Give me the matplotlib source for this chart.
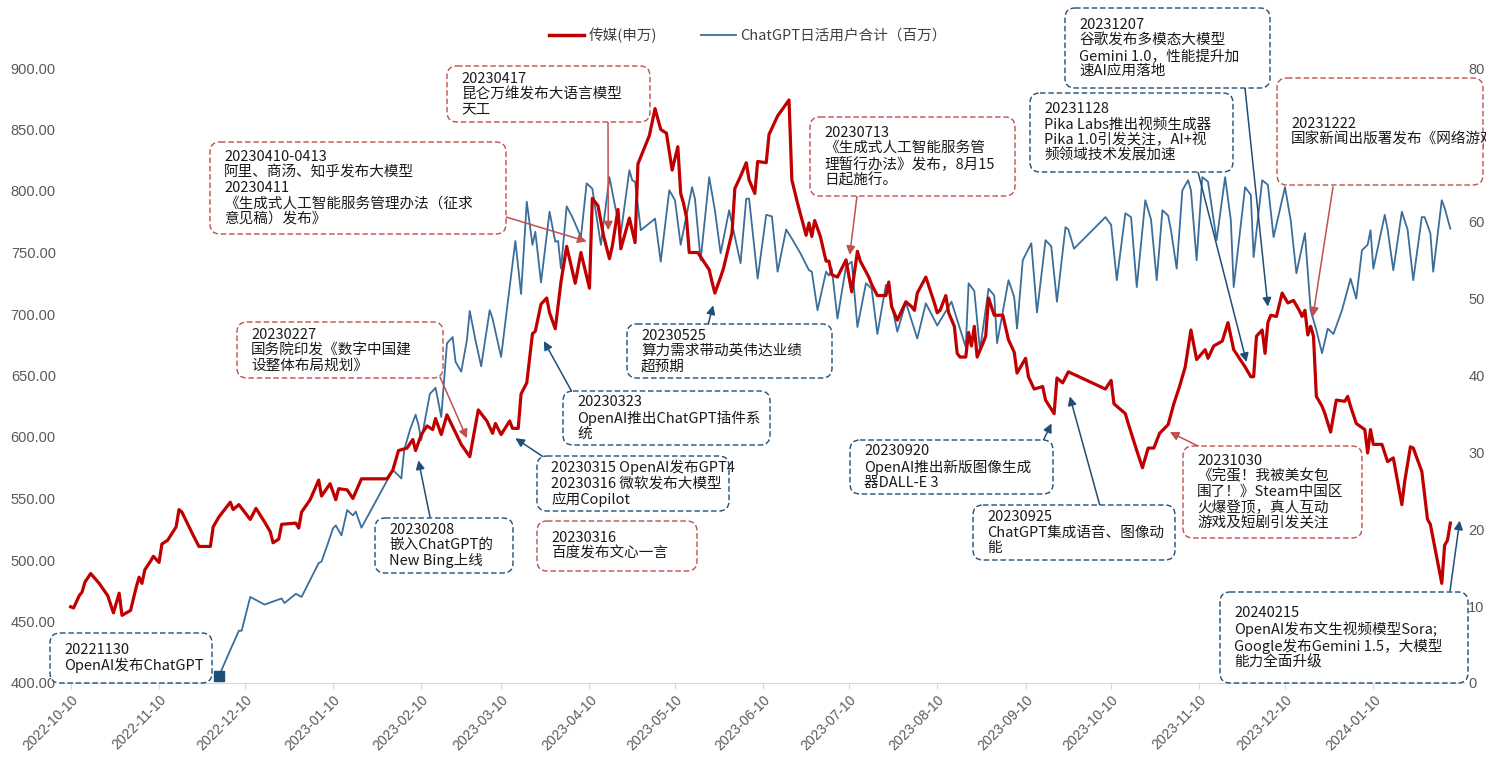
import numpy as np
import pandas as pd
import matplotlib
matplotlib.use('Agg')
import matplotlib.pyplot as plt
import matplotlib.dates as mdates
from matplotlib.patches import FancyBboxPatch
from matplotlib.transforms import Affine2D
from matplotlib.lines import Line2D

plt.rcParams['font.family'] = ['Noto Sans CJK SC', 'DejaVu Sans']

# ---------------------------------------------------------------
# data (x = days since 2022-10-10)
# ---------------------------------------------------------------
START = pd.Timestamp('2022-10-10')

red_day = [0, 1, 3, 4, 5, 7, 10, 13, 15, 17, 18, 21, 23, 24, 25, 26, 28, 29, 31, 32,
           34, 37, 38, 39, 43, 45, 49, 50, 52, 56, 57, 59, 63, 65, 68, 70, 71, 73, 74, 79,
           80, 81, 84, 87, 88, 91, 93, 94, 97, 99, 102, 111, 113, 115, 118, 120, 121, 123, 125, 127,
           128, 130, 132, 137, 140, 143, 146, 148, 149, 151, 154, 155, 157, 158, 160, 162, 163, 165, 167, 168,
           170, 172, 174, 177, 179, 182, 183, 185, 187, 189, 190, 192, 193, 196, 198, 199, 203, 205, 207, 209,
           211, 213, 214, 215, 216, 217, 220, 222, 224, 225, 226, 228, 229, 232, 233, 235, 237, 238, 240, 241,
           244, 245, 246, 248, 252, 253, 255, 258, 259, 260, 261, 263, 265, 266, 267, 269, 272, 274, 276, 277,
           280, 281, 283, 286, 287, 288, 290, 293, 295, 296, 297, 300, 303, 304, 305, 307, 308, 310, 311, 312,
           314, 315, 316, 317, 318, 320, 321, 322, 324, 327, 329, 331, 332, 335, 336, 338, 341, 342, 345, 346,
           348, 350, 363, 365, 366, 370, 371, 374, 376, 378, 380, 382, 385, 387, 389, 391, 393, 395, 398, 399,
           401, 404, 406, 408, 410, 412, 414, 415, 416, 418, 419, 420, 421, 423, 425, 427, 429, 431, 432, 433,
           434, 435, 436, 437, 439, 440, 442, 444, 447, 448, 449, 451, 454, 455, 456, 457, 460, 462, 464, 467,
           468, 470, 471, 474, 476, 477, 481, 482, 483, 484]
red_val = [462, 461, 471, 474, 482, 489, 481, 471, 457, 473, 455, 459, 478, 486, 481, 492, 499, 503, 498, 513,
           516, 527, 541, 539, 520, 511, 511, 527, 535, 547, 541, 545, 533, 542, 531, 523, 514, 517, 529, 530,
           526, 539, 549, 565, 552, 562, 549, 558, 557, 550, 566, 566, 573, 589, 591, 598, 589, 602, 609, 606,
           615, 602, 618, 594, 584, 622, 613, 603, 611, 602, 613, 607, 607, 635, 644, 684, 686, 708, 713, 701,
           688, 726, 755, 725, 750, 721, 794, 788, 763, 745, 755, 785, 753, 778, 758, 822, 845, 867, 850, 847,
           817, 836, 798, 790, 779, 750, 750, 743, 736, 726, 717, 730, 737, 766, 802, 812, 823, 809, 798, 824,
           823, 846, 851, 861, 874, 809, 790, 764, 774, 763, 776, 763, 743, 743, 732, 730, 744, 718, 751, 743,
           730, 724, 715, 715, 726, 706, 695, 710, 706, 703, 717, 730, 709, 701, 703, 715, 701, 690, 668, 665,
           665, 685, 674, 690, 665, 676, 682, 713, 699, 699, 679, 669, 652, 664, 649, 639, 641, 630, 619, 648,
           644, 653, 639, 646, 627, 619, 611, 589, 575, 591, 591, 603, 610, 627, 641, 657, 687, 663, 671, 664,
           674, 678, 693, 671, 664, 657, 649, 649, 682, 687, 668, 693, 699, 698, 717, 709, 711, 703, 698, 703,
           683, 690, 682, 633, 625, 619, 604, 630, 629, 633, 625, 611, 606, 587, 606, 594, 594, 580, 583, 545,
           564, 592, 591, 572, 533, 529, 481, 512, 516, 530]

blue_day = [52, 56, 59, 60, 61, 63, 65, 68, 74, 75, 79, 81, 84, 87, 88, 90, 92, 93, 95, 97,
            99, 100, 102, 113, 115, 116, 117, 118, 119, 121, 122, 123, 126, 128, 130, 132, 134, 135, 137, 139,
            140, 142, 144, 147, 148, 151, 153, 156, 158, 160, 162, 163, 165, 168, 170, 171, 172, 174, 176, 179,
            181, 183, 186, 189, 191, 193, 196, 197, 198, 200, 203, 205, 207, 210, 212, 214, 218, 219, 221, 224,
            226, 228, 231, 235, 237, 238, 241, 244, 246, 248, 251, 253, 256, 259, 260, 262, 265, 266, 267, 269,
            272, 274, 276, 279, 281, 283, 286, 287, 290, 293, 297, 300, 304, 309, 314, 315, 317, 319, 322, 324,
            325, 329, 331, 332, 334, 337, 339, 342, 344, 346, 349, 350, 352, 363, 365, 367, 370, 372, 374, 377,
            379, 381, 383, 385, 386, 388, 390, 392, 393, 395, 397, 399, 402, 405, 407, 408, 412, 414, 415, 418,
            420, 422, 426, 428, 430, 433, 435, 437, 439, 441, 443, 446, 449, 451, 453, 455, 456, 457, 461, 462,
            464, 467, 469, 471, 474, 475, 477, 478, 481, 482, 484]
blue_val = [0.9, 4.3, 6.8, 6.8, 8.3, 11.2, 10.8, 10.2, 11.0, 10.4, 11.6, 11.2, 13.4, 15.6, 15.8, 17.9, 20.1, 20.5, 19.2, 22.5,
            21.8, 22.3, 20.2, 27.7, 27.0, 26.6, 30.3, 31.6, 32.9, 34.9, 33.6, 31.6, 37.6, 38.4, 34.6, 44.2, 45.0, 41.8, 40.5, 44.6,
            48.4, 44.6, 41.2, 48.5, 47.4, 42.4, 48.5, 57.5, 50.6, 62.6, 57.0, 58.7, 52.1, 61.3, 57.4, 57.5, 53.9, 62.0, 60.6, 58.0,
            65.0, 64.3, 57.0, 65.8, 62.0, 58.5, 66.7, 65.4, 65.2, 58.9, 59.8, 60.4, 54.8, 64.1, 62.8, 57.0, 64.5, 63.0, 55.0, 65.8,
            61.5, 55.9, 61.5, 54.6, 63.0, 63.0, 52.6, 60.9, 60.7, 53.5, 59.0, 57.8, 55.9, 53.7, 53.5, 48.5, 53.5, 53.0, 53.9, 47.4,
            54.2, 54.8, 46.3, 52.0, 51.3, 45.4, 51.8, 51.0, 45.7, 49.5, 44.8, 49.4, 46.5, 49.6, 43.7, 52.0, 51.0, 43.3, 51.3, 50.4,
            44.2, 52.4, 50.2, 46.1, 55.0, 57.2, 48.2, 57.6, 56.8, 49.6, 59.3, 59.0, 56.5, 60.6, 59.6, 52.4, 61.1, 60.6, 51.5, 62.8,
            60.3, 52.4, 61.5, 60.8, 58.9, 53.9, 64.1, 65.4, 64.1, 55.0, 65.8, 65.2, 57.6, 65.8, 60.2, 51.5, 64.5, 63.5, 55.4, 65.4,
            64.8, 58.0, 64.5, 60.2, 53.3, 58.5, 48.5, 45.9, 42.9, 46.1, 45.4, 48.5, 52.6, 50.0, 56.3, 57.0, 58.9, 53.9, 60.9, 59.0,
            53.7, 61.3, 59.0, 52.4, 60.6, 60.6, 58.5, 53.5, 62.8, 61.8, 59.1]

red_name = '传媒(申万)'
blue_name = 'ChatGPT日活用户合计（百万）'

left_ticks = [400, 450, 500, 550, 600, 650, 700, 750, 800, 850, 900]
right_ticks = [0, 10, 20, 30, 40, 50, 60, 70, 80]
tick_dates = pd.date_range('2022-10-10', periods=16, freq=pd.DateOffset(months=1))

# event notes: text, colour kind, box (x0, y0, x1, y1) in image pixels,
# arrow tail in image pixels, arrow head (day, left-axis value)
RED_C = '#C0504D'
BLUE_C = '#1F4E79'
notes = [
    ('20221130\nOpenAI发布ChatGPT', 'b', (50, 633, 212, 683), None, None),
    ('20230208\n嵌入ChatGPT的\nNew Bing上线', 'b', (375, 518, 513, 573), (430, 517), (122, 581)),
    ('20230227\n国务院印发《数字中国建\n设整体布局规划》', 'r', (237, 322, 443, 378), (440, 377), (139, 599)),
    ('20230315 OpenAI发布GPT4\n20230316 微软发布大模型\n应用Copilot', 'b', (537, 456, 729, 511), (545, 458), (156, 599)),
    ('20230316\n百度发布文心一言', 'r', (537, 521, 697, 571), None, None),
    ('20230323\nOpenAI推出ChatGPT插件系\n统', 'b', (563, 391, 770, 445), (572, 392), (166, 678)),
    ('20230410-0413\n阿里、商汤、知乎发布大模型\n20230411\n《生成式人工智能服务管理办法（征求\n意见稿）发布》',
     'r', (210, 142, 506, 234), (506, 217), (181, 759)),
    ('20230417\n昆仑万维发布大语言模型\n天工', 'r', (447, 66, 650, 122), (608, 122), (188.6, 768)),
    ('20230525\n算力需求带动英伟达业绩\n超预期', 'b', (627, 324, 832, 378), (708, 325), (225.4, 707)),
    ('20230713\n《生成式人工智能服务管\n理暂行办法》发布，8月15\n日起施行。', 'r', (810, 117, 1015, 196), (857, 196), (273.3, 748)),
    ('20230920\nOpenAI推出新版图像生成\n器DALL-E 3', 'b', (850, 440, 1053, 494), (1043, 441), (344.1, 611)),
    ('20230925\nChatGPT集成语音、图像动\n能', 'b', (973, 505, 1175, 560), (1100, 506), (350.5, 633)),
    ('20231030\n《完蛋！我被美女包\n围了！》Steam中国区\n火爆登顶，真人互动\n游戏及短剧引发关注', 'r',
     (1183, 446, 1362, 538), (1200, 447), (385.6, 604)),
    ('20231128\nPika Labs推出视频生成器\nPika 1.0引发关注，AI+视\n频领域技术发展加速', 'b',
     (1030, 93, 1233, 172), (1198, 172), (412.5, 661)),
    ('20231207\n谷歌发布多模态大模型\nGemini 1.0，性能提升加\n速AI应用落地', 'b', (1065, 8, 1270, 88), (1245, 88), (420, 706)),
    ('20231222\n国家新闻出版署发布《网络游戏管理办法》', 'r', (1277, 78, 1483, 185), (1333, 187), (435.8, 698)),
    ('20240215\nOpenAI发布文生视频模型Sora;\nGoogle发布Gemini 1.5，大模型\n能力全面升级', 'b',
     (1220, 592, 1468, 683), (1450, 591), (487.3, 532)),
]

# ---------------------------------------------------------------
W, H, DPI = 1486, 760, 100
fig = plt.figure(figsize=(W / DPI, H / DPI), dpi=DPI)
ax = fig.add_axes([60 / W, (H - 683) / H, (1464 - 60) / W, (683 - 68) / H])
ax2 = ax.twinx()
ax.set_zorder(ax2.get_zorder() + 1)
ax.patch.set_visible(False)

# image-pixel transform (origin top-left)
px = Affine2D().scale(1, -1).translate(0, H) + Affine2D().scale(1 / DPI) + fig.dpi_scale_trans


def to_date(days):
    return START + pd.to_timedelta(np.asarray(days, dtype=float), unit='D')


red_x = to_date(red_day)
blue_x = to_date(blue_day)

ax2.plot(blue_x, blue_val, color='#3B6E9A', lw=1.3, zorder=2)
ax2.plot(blue_x[:1], blue_val[:1], marker='s', ms=7, color=BLUE_C, ls='none', zorder=3, clip_on=False)
ax.plot(red_x, red_val, color='#C00000', lw=2.3, zorder=3)

ax.set_ylim(400, 900)
ax2.set_ylim(0, 80)
ax.set_xlim(START - pd.Timedelta(days=3.75), START + pd.Timedelta(days=488.8))

ax.set_yticks(left_ticks)
ax.set_yticklabels([f'{v:.2f}' for v in left_ticks])
ax2.set_yticks(right_ticks)
ax2.set_yticklabels([str(v) for v in right_ticks])
ax.set_xticks(tick_dates)
ax.set_xticklabels([d.strftime('%Y-%m-%d') for d in tick_dates], rotation=45, ha='right',
                   rotation_mode='anchor')

for a in (ax, ax2):
    for s in a.spines.values():
        s.set_visible(False)
ax.spines['bottom'].set_visible(True)
ax.spines['bottom'].set_color('#D9D9D9')

ax.tick_params(axis='y', length=0, pad=3, labelsize=10.5, labelcolor='#595959')
ax2.tick_params(axis='y', length=0, pad=3, labelsize=10.5, labelcolor='#595959')
ax.tick_params(axis='x', length=4, color='#D9D9D9', pad=3, labelsize=10, labelcolor='#595959')
for lab in ax.get_yticklabels() + ax2.get_yticklabels() + ax.get_xticklabels():
    lab.set_fontfamily(['Liberation Sans', 'DejaVu Sans'])

# ---------------------------------------------------------------
# event boxes and arrows
for text, kind, (x0, y0, x1, y1), tail, head in notes:
    c = RED_C if kind == 'r' else BLUE_C
    box = FancyBboxPatch((x0, y0), x1 - x0, y1 - y0, boxstyle='round,pad=0,rounding_size=10',
                         transform=px, facecolor='white', edgecolor=c, lw=1.0,
                         linestyle=(0, (4, 2)), zorder=5)
    fig.patches.append(box)
    box.set_figure(fig)
    t = fig.text(x0 + 14, (y0 + y1) / 2, text, transform=px, ha='left', va='center',
                 fontsize=10.5, color='#1A1A1A', linespacing=1.12, zorder=6)
    t.set_clip_path(box)
    if tail is not None:
        hx = mdates.date2num(START + pd.Timedelta(days=head[0]))
        ax.annotate('', xy=(hx, head[1]), xycoords='data', xytext=tail, textcoords=px,
                    arrowprops=dict(arrowstyle='-|>', color=c, lw=1.1, shrinkA=0, shrinkB=0,
                                    mutation_scale=13),
                    annotation_clip=False, zorder=4)

handles = [Line2D([], [], color='#C00000', lw=2.5), Line2D([], [], color='#3B6E9A', lw=1.3)]
fig.legend(handles, [red_name, blue_name], loc='center', bbox_to_anchor=(748 / W, 1 - 35 / H),
           ncol=2, frameon=False, fontsize=10.5, labelcolor='#404040', handlelength=2.4,
           columnspacing=3.0, handletextpad=0.3)

fig.savefig('out.png', dpi=DPI, facecolor='white')
